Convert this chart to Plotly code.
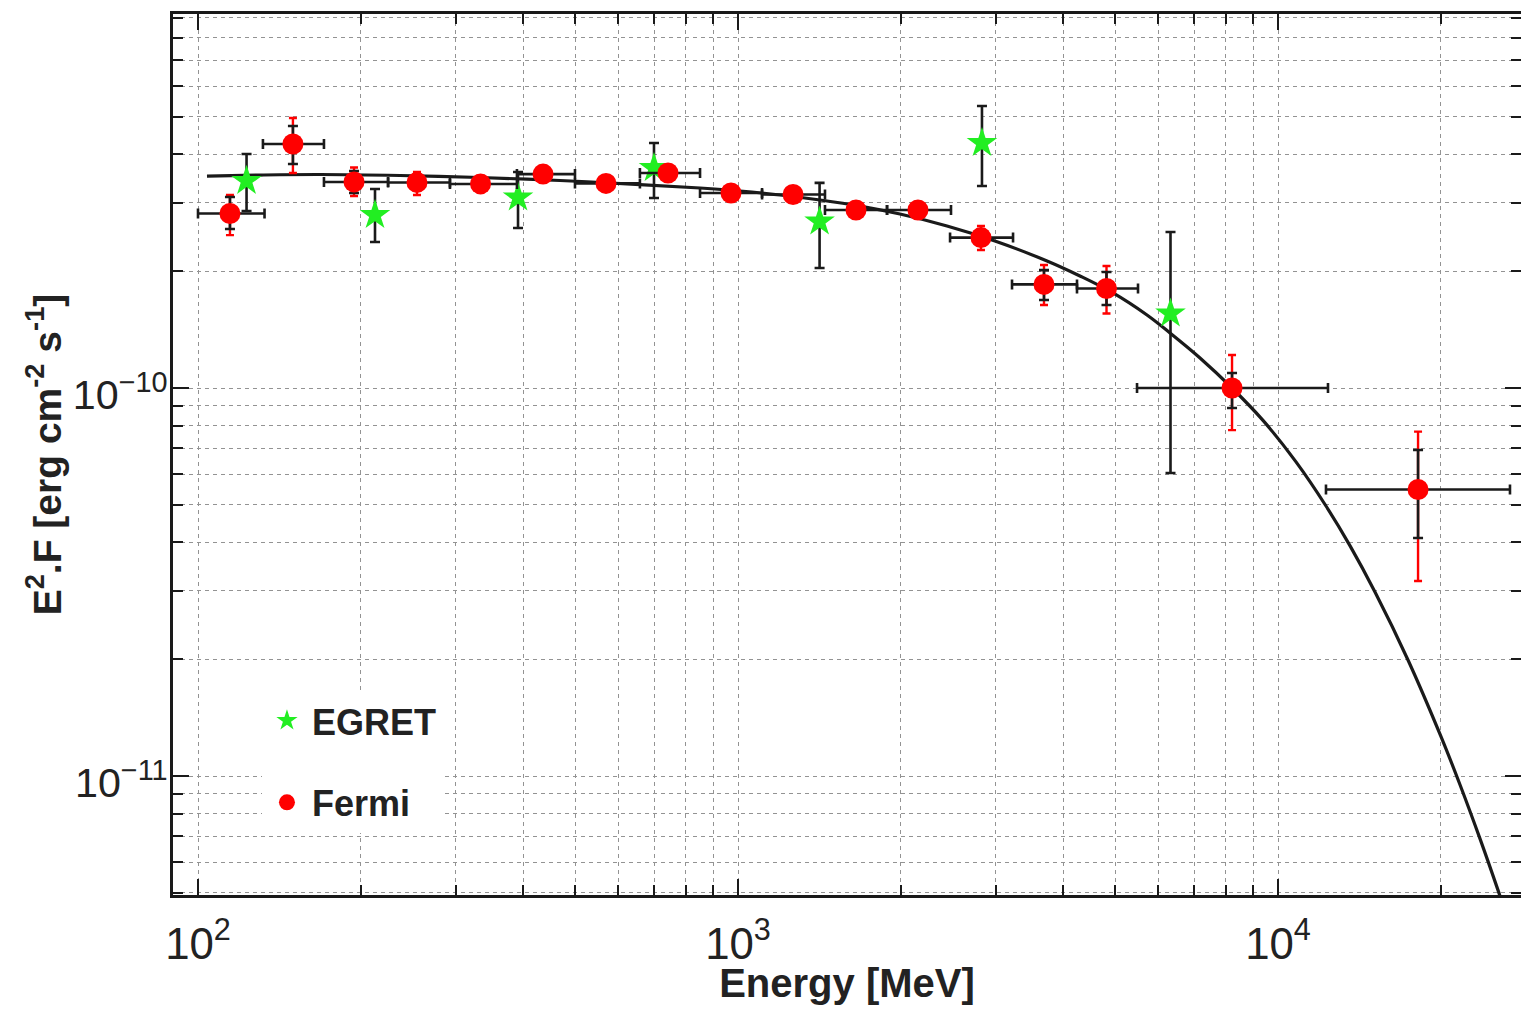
import plotly.graph_objects as go

# ---------------- data ----------------
# Fermi points: energy [MeV], bin edges, E^2 F [erg cm^-2 s^-1]
fermi_E = [114.6, 149.9, 194.5, 254.4, 333.6, 435.5, 569.6, 742.0, 970.5, 1264.6,
           1654, 2154, 2818, 3687, 4813, 8220, 18170]
fermi_Elo = [100.0, 131.9, 171.1, 224.9, 292.8, 389.6, 499.0, 658.2, 850.5, 1108,
             1449, 1888, 2470, 3217, 4244, 5482, 12270]
fermi_Ehi = [132.8, 171.1, 224.9, 292.8, 389.6, 499.0, 658.2, 850.5, 1108, 1449,
             1888, 2480, 3231, 4244, 5505, 12376, 26890]
fermi_F = [2.817e-10, 4.254e-10, 3.397e-10, 3.387e-10, 3.357e-10, 3.559e-10, 3.367e-10,
           3.581e-10, 3.181e-10, 3.153e-10, 2.876e-10, 2.876e-10, 2.441e-10, 1.849e-10,
           1.805e-10, 1.0e-10, 5.475e-11]
# total (red) error bar ends
fermi_tot_hi = [3.144e-10, 4.965e-10, 3.701e-10, 3.602e-10, 3.518e-10, 3.690e-10, 3.509e-10,
                3.734e-10, 3.316e-10, 3.287e-10, 3.016e-10, 3.016e-10, 2.615e-10, 2.075e-10,
                2.063e-10, 1.216e-10, 7.72e-11]
fermi_tot_lo = [2.478e-10, 3.581e-10, 3.126e-10, 3.144e-10, 3.200e-10, 3.416e-10, 3.228e-10,
                3.436e-10, 3.052e-10, 3.025e-10, 2.742e-10, 2.742e-10, 2.268e-10, 1.636e-10,
                1.556e-10, 7.79e-11, 3.18e-11]
# statistical (black) error bar ends
fermi_stat_hi = [3.107e-10, 4.733e-10, 3.625e-10, 3.539e-10, 3.457e-10, 3.668e-10, 3.467e-10,
                 3.690e-10, 3.277e-10, 3.248e-10, 2.981e-10, 2.981e-10, 2.554e-10, 2.013e-10,
                 1.990e-10, 1.093e-10, 6.92e-11]
fermi_stat_lo = [2.570e-10, 3.779e-10, 3.181e-10, 3.238e-10, 3.258e-10, 3.457e-10, 3.267e-10,
                 3.477e-10, 3.088e-10, 3.061e-10, 2.775e-10, 2.775e-10, 2.337e-10, 1.686e-10,
                 1.636e-10, 8.88e-11, 4.105e-11]

# EGRET points
egret_E = [123.0, 212.7, 391.4, 698.9, 1416, 2830, 6323]
egret_F = [3.417e-10, 2.792e-10, 3.097e-10, 3.688e-10, 2.686e-10, 4.279e-10, 1.556e-10]
egret_hi = [4.010e-10, 3.258e-10, 3.602e-10, 4.279e-10, 3.377e-10, 5.330e-10, 2.523e-10]
egret_lo = [2.859e-10, 2.378e-10, 2.584e-10, 3.088e-10, 2.038e-10, 3.317e-10, 6.04e-11]

# model curve
curve_E = [103.9, 130.3, 168.2, 236.6, 332.9, 468.1, 658.2, 850.5, 1008.6, 1196, 1418.6,
           1682.4, 1995, 2438, 2991, 3735, 4298, 4948, 5720, 6310, 7171, 8220, 9380,
           10798, 12271, 13598, 15122, 17408, 20040, 21730, 23660, 25550, 27470]
curve_F = [3.518e-10, 3.539e-10, 3.550e-10, 3.529e-10, 3.487e-10, 3.426e-10, 3.345e-10,
           3.277e-10, 3.219e-10, 3.144e-10, 3.052e-10, 2.944e-10, 2.808e-10, 2.616e-10,
           2.393e-10, 2.125e-10, 1.944e-10, 1.758e-10, 1.542e-10, 1.386e-10, 1.195e-10,
           1.0e-10, 8.25e-11, 6.449e-11, 4.964e-11, 3.918e-11, 2.980e-11, 1.991e-11,
           1.263e-11, 9.497e-12, 6.897e-12, 5.08e-12, 3.752e-12]

x_range_log = [1.9537, 4.4500]
y_range_log = [-11.3067, -9.0361]

# ---------------- figure ----------------
FONT = "Liberation Sans, Arial, Helvetica, sans-serif"
BLACK = "#1a1a1a"
GREEN = "#22ee22"
RED = "#ff0000"

fig = go.Figure()

fig.add_trace(go.Scatter(
    x=curve_E, y=curve_F, mode="lines",
    line=dict(color=BLACK, width=3.2, shape="spline", smoothing=1),
    showlegend=False, hoverinfo="skip"))

fig.add_trace(go.Scatter(
    x=egret_E, y=egret_F, mode="markers", name="<b>EGRET</b>", legendgroup="egret",
    marker=dict(symbol="star", size=23, color=GREEN, line=dict(width=0)),
    error_y=dict(type="data", symmetric=False,
                 array=[h - f for h, f in zip(egret_hi, egret_F)],
                 arrayminus=[f - l for f, l in zip(egret_F, egret_lo)],
                 color=BLACK, thickness=2.6, width=5)))

fig.add_trace(go.Scatter(
    x=fermi_E, y=fermi_F, mode="markers", showlegend=False, legendgroup="fermi",
    marker=dict(size=21, color="rgba(0,0,0,0)"),
    error_y=dict(type="data", symmetric=False,
                 array=[h - f for h, f in zip(fermi_tot_hi, fermi_F)],
                 arrayminus=[f - l for f, l in zip(fermi_F, fermi_tot_lo)],
                 color=RED, thickness=2.4, width=4)))

fig.add_trace(go.Scatter(
    x=fermi_E, y=fermi_F, mode="markers", name="<b>Fermi</b>", legendgroup="fermi",
    marker=dict(symbol="circle", size=21, color=RED, line=dict(width=0)),
    error_x=dict(type="data", symmetric=False,
                 array=[h - e for h, e in zip(fermi_Ehi, fermi_E)],
                 arrayminus=[e - l for e, l in zip(fermi_E, fermi_Elo)],
                 color=BLACK, thickness=2.6, width=5),
    error_y=dict(type="data", symmetric=False,
                 array=[h - f for h, f in zip(fermi_stat_hi, fermi_F)],
                 arrayminus=[f - l for f, l in zip(fermi_F, fermi_stat_lo)],
                 color=BLACK, thickness=2.6, width=5)))

grid = dict(showgrid=True, gridcolor="#939393", gridwidth=1.2, griddash="4px,4px")

fig.update_xaxes(
    type="log", range=x_range_log, dtick=1, exponentformat="power", showexponent="all",
    ticks="inside", ticklen=16, tickwidth=1.5, tickcolor=BLACK, automargin=False,
    showline=True, linecolor=BLACK, linewidth=2.5, mirror="allticks",
    tickfont=dict(family=FONT, size=35, color="#222"), ticklabelstandoff=10,
    minor=dict(dtick="D1", ticks="inside", ticklen=10, tickcolor=BLACK, **grid),
    title=dict(text="<b>Energy [MeV]</b>", font=dict(family=FONT, size=40, color="#222"),
               standoff=9),
    zeroline=False, **grid)

fig.update_yaxes(
    type="log", range=y_range_log, dtick=1, exponentformat="power", showexponent="all",
    ticks="inside", ticklen=16, tickwidth=1.5, tickcolor=BLACK, automargin=False,
    showline=True, linecolor=BLACK, linewidth=2.5, mirror="allticks",
    tickfont=dict(family=FONT, size=33, color="#222"), ticklabelstandoff=-4,
    ticklabelshift=7,
    minor=dict(dtick="D1", ticks="inside", ticklen=10, tickcolor=BLACK, **grid),
    title=dict(text="<b>E<sup>2</sup>.F [erg cm<sup>-2</sup> s<sup>-1</sup>]</b>",
               font=dict(family=FONT, size=39, color="#222"), standoff=0),
    zeroline=False, **grid)

# The page body has an 8px margin, so the figure is sized to fit inside it.
fig.update_layout(
    width=1513, height=997,
    margin=dict(l=165, r=0, t=6, b=110),
    paper_bgcolor="white", plot_bgcolor="white",
    font=dict(family=FONT, color="#222"),
    legend=dict(x=0.066, y=0.232, xanchor="left", yanchor="top",
                bgcolor="white", borderwidth=0, tracegroupgap=32, itemwidth=40,
                font=dict(family=FONT, size=36, color="#222")),
)

fig.write_html("out.html")
